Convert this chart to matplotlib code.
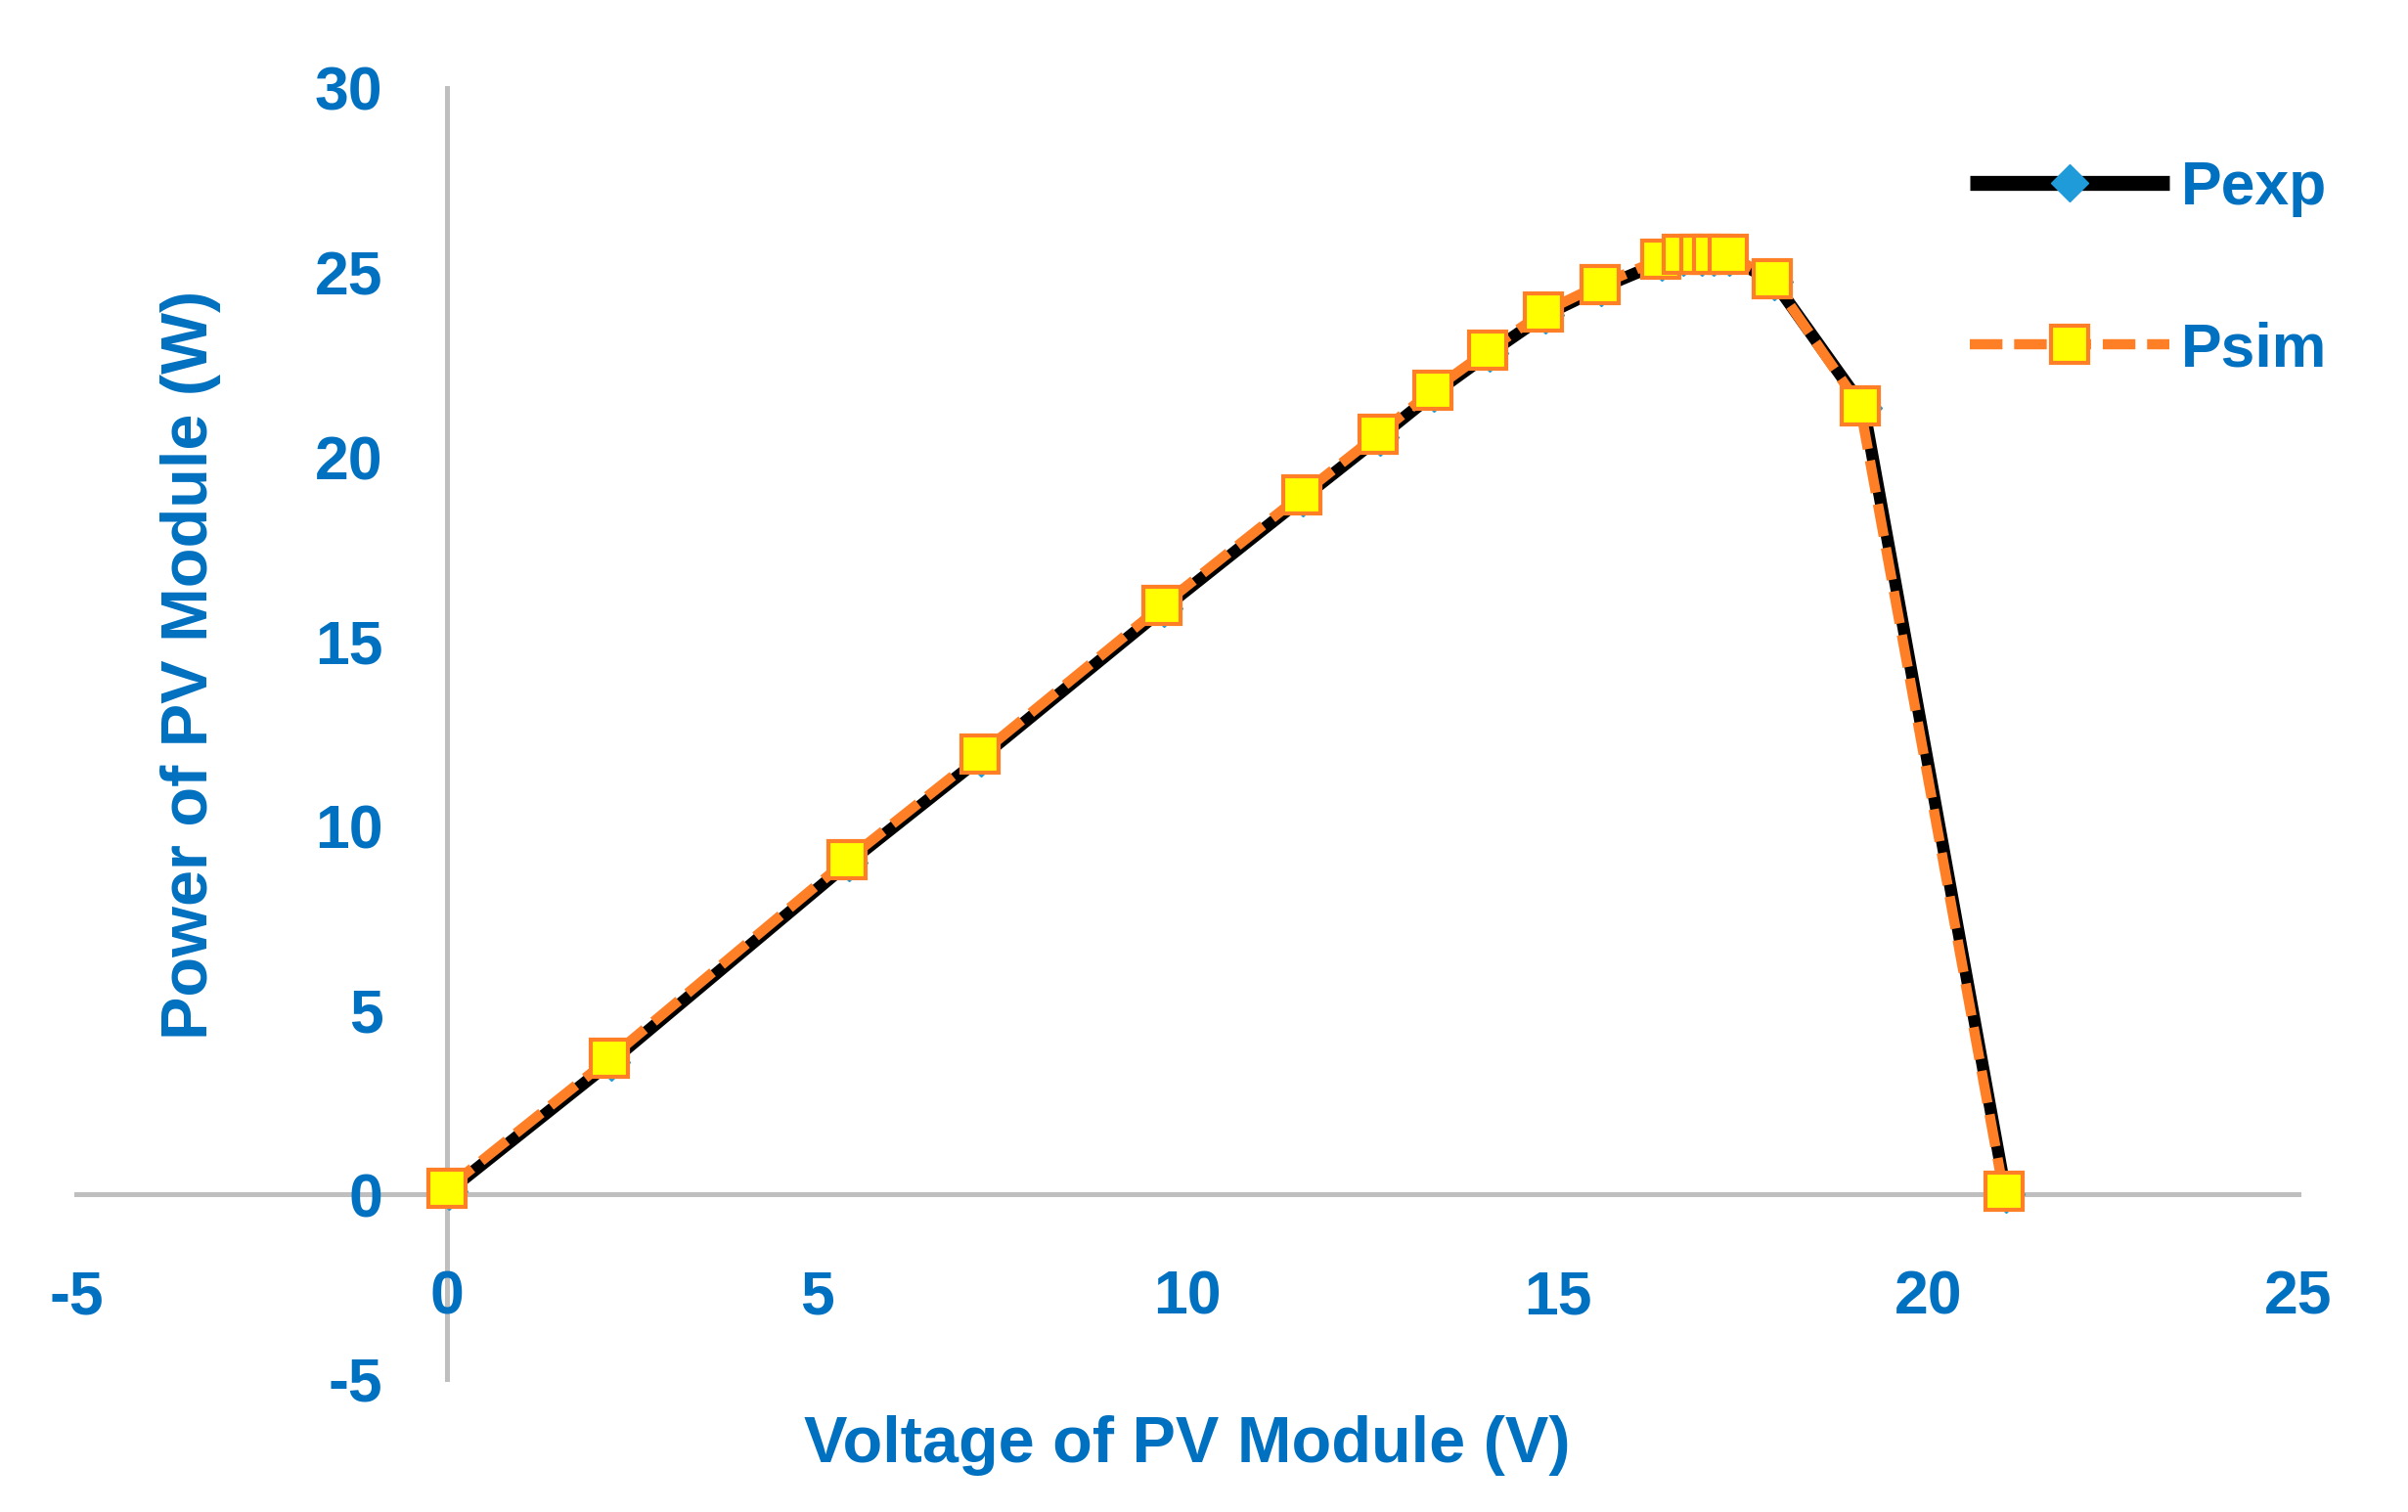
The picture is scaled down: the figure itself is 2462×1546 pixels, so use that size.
import matplotlib
matplotlib.use("Agg")
import matplotlib.pyplot as plt

# ---- data ----
v_exp = [0.03, 2.22, 5.43, 7.22, 9.68, 11.56, 12.60, 13.33, 14.08, 14.83, 15.59,
         16.41, 16.70, 16.94, 17.11, 17.32, 17.92, 19.13, 21.05]
p_exp = [0.10, 3.60, 9.00, 11.85, 15.89, 18.89, 20.54, 21.72, 22.81, 23.85, 24.59,
         25.28, 25.40, 25.40, 25.40, 25.40, 24.75, 21.34, 0.02]

v_sim = [0.00, 2.20, 5.41, 7.20, 9.66, 11.54, 12.58, 13.31, 14.06, 14.81, 15.57,
         16.39, 16.68, 16.92, 17.09, 17.30, 17.89, 19.08, 21.02]
p_sim = [0.16, 3.69, 9.08, 11.93, 15.97, 18.97, 20.62, 21.80, 22.89, 23.93, 24.67,
         25.36, 25.49, 25.49, 25.49, 25.49, 24.83, 21.38, 0.08]

x_ticks = [-5, 0, 5, 10, 15, 20, 25]
x_tick_labels = ["-5", "0", "5", "10", "15", "20", "25"]
y_ticks = [-5, 0, 5, 10, 15, 20, 25, 30]
y_tick_labels = ["-5", "0", "5", "10", "15", "20", "25", "30"]

x_label = "Voltage of PV Module (V)"
y_label = "Power of PV Module (W)"
series_names = ["Pexp", "Psim"]

# ---- style ----
plt.rcParams['font.family'] = ['Liberation Sans', 'DejaVu Sans']
plt.rcParams['font.weight'] = 'bold'
TXT = '#0070C0'
GRAY = '#BFBFBF'

fig = plt.figure(figsize=(24.62, 15.46), dpi=100)
ax = fig.add_axes([0.03168, 0.08797, 0.92283, 0.85382])

ax.plot(v_exp, p_exp, color='black', lw=9, marker='D', ms=19,
        markerfacecolor='#1F9BDA', markeredgecolor='#1F9BDA', mew=1,
        label=series_names[0], zorder=3, solid_capstyle='butt')
ax.plot(v_sim, p_sim, color='#FF7F27', lw=7.5, dashes=(3.2, 1.15), marker='s', ms=28,
        markerfacecolor='#FFFF00', markeredgecolor='#FF7F27', mew=3,
        label=series_names[1], zorder=4)

ax.set_xlim(-5, 25)
ax.set_ylim(-5, 30)

for s in ['top', 'right']:
    ax.spines[s].set_visible(False)
ax.spines['left'].set_position(('data', 0))
ax.spines['bottom'].set_position(('data', 0))
for s in ['left', 'bottom']:
    ax.spines[s].set_color(GRAY)
    ax.spines[s].set_linewidth(3.6)
    ax.spines[s].set_zorder(1)

ax.set_xticks(x_ticks)
ax.set_xticklabels(x_tick_labels)
ax.set_yticks(y_ticks)
ax.set_yticklabels(y_tick_labels)
ax.tick_params(axis='both', length=0, labelsize=45, labelcolor=TXT)
ax.tick_params(axis='x', pad=55)
ax.tick_params(axis='y', pad=47)
for t in ax.get_xticklabels() + ax.get_yticklabels():
    t.set_fontweight('bold')

ax.set_xlabel(x_label, fontsize=48, fontweight='bold', color=TXT)
ax.xaxis.label.set_va('center')
ax.xaxis.set_label_coords(0.5, -0.0515)
ax.set_ylabel(y_label, fontsize=48, fontweight='bold', color=TXT)
ax.yaxis.label.set_va('center')
ax.yaxis.label.set_ha('center')
ax.yaxis.set_label_coords(0.0513, 0.553)

leg = ax.legend(loc='upper left', bbox_to_anchor=(2014 / 2462, 1 - 163 / 1546),
                bbox_transform=fig.transFigure, frameon=False, fontsize=45,
                handlelength=3.26, handletextpad=0.2, labelspacing=1.70,
                borderpad=0, borderaxespad=0)
for t in leg.get_texts():
    t.set_color(TXT)
    t.set_fontweight('bold')
leg.get_lines()[0].set_linewidth(11)

fig.savefig('out.png', dpi=100, facecolor='white')
